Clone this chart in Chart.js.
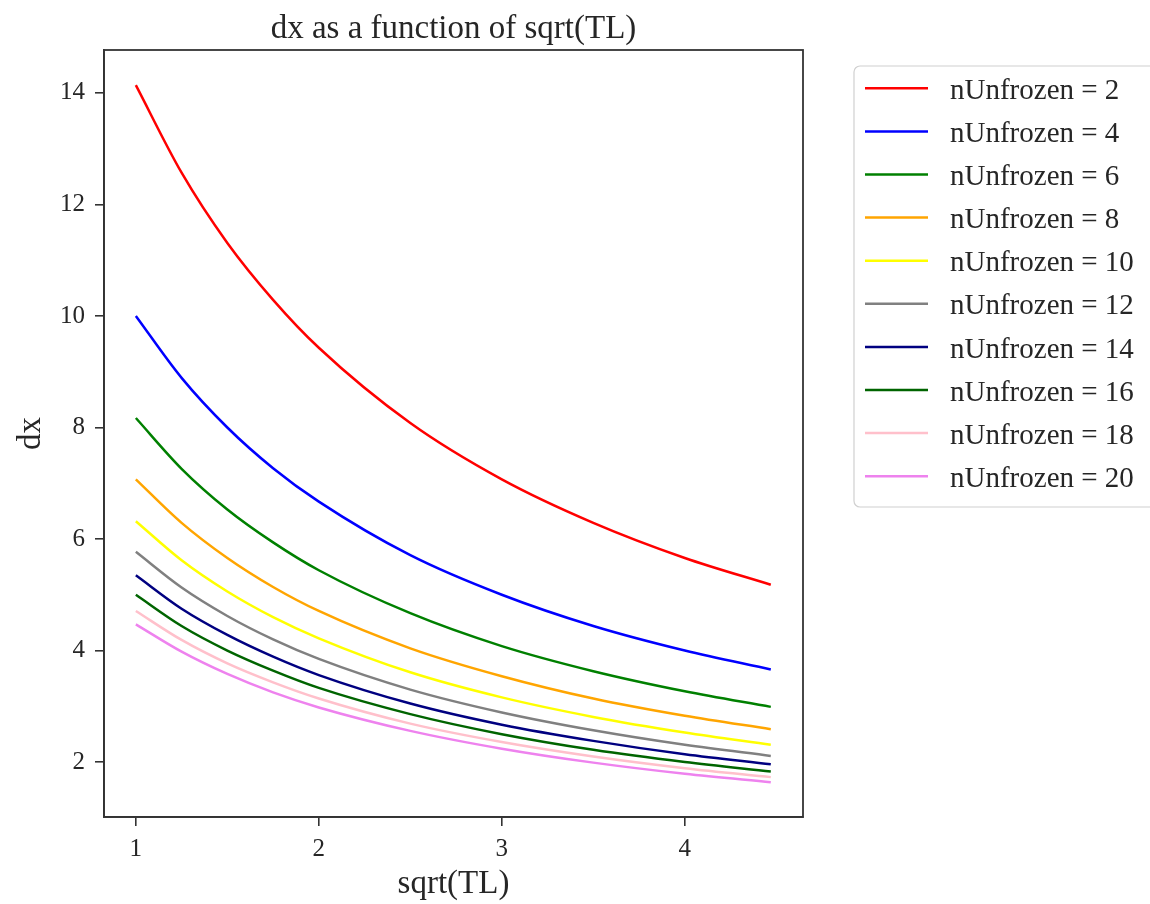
<!DOCTYPE html>
<html>
<head>
<meta charset="utf-8">
<script src="https://cdn.jsdelivr.net/npm/chart.js@4.4.1/dist/chart.umd.min.js"></script>
<style>
  html, body { margin: 0; padding: 0; background: #ffffff; }
  #wrap { width: 1150px; height: 904px; position: relative; }
</style>
</head>
<body>
<div id="wrap"><canvas id="c" width="1150" height="904"></canvas></div>
<script>
// ---- data ----
const sqrtTL = [1, 1.25, 1.5, 1.75, 2, 2.5, 3, 3.5, 4, 4.47];
const dx_n2  = [14.14, 12.57, 11.31, 10.29, 9.43, 8.08, 7.07, 6.29, 5.66, 5.18];
const dx_n4  = [10.00, 8.89, 8.00, 7.27, 6.67, 5.71, 5.00, 4.44, 4.00, 3.66];
const dx_n6  = [8.17, 7.26, 6.53, 5.94, 5.44, 4.67, 4.08, 3.63, 3.27, 2.99];
const dx_n8  = [7.07, 6.29, 5.66, 5.14, 4.71, 4.04, 3.54, 3.14, 2.83, 2.59];
const dx_n10 = [6.32, 5.62, 5.06, 4.60, 4.22, 3.61, 3.16, 2.81, 2.53, 2.31];
const dx_n12 = [5.77, 5.13, 4.62, 4.20, 3.85, 3.30, 2.89, 2.57, 2.31, 2.11];
const dx_n14 = [5.35, 4.75, 4.28, 3.89, 3.56, 3.05, 2.67, 2.38, 2.14, 1.96];
const dx_n16 = [5.00, 4.44, 4.00, 3.64, 3.33, 2.86, 2.50, 2.22, 2.00, 1.83];
const dx_n18 = [4.71, 4.19, 3.77, 3.43, 3.14, 2.69, 2.36, 2.10, 1.89, 1.73];
const dx_n20 = [4.47, 3.98, 3.58, 3.25, 2.98, 2.56, 2.24, 1.99, 1.79, 1.64];
const seriesLabels = ['nUnfrozen = 2','nUnfrozen = 4','nUnfrozen = 6','nUnfrozen = 8','nUnfrozen = 10',
                      'nUnfrozen = 12','nUnfrozen = 14','nUnfrozen = 16','nUnfrozen = 18','nUnfrozen = 20'];
const seriesValues = [dx_n2, dx_n4, dx_n6, dx_n8, dx_n10, dx_n12, dx_n14, dx_n16, dx_n18, dx_n20];
const seriesColors = ['#ff0000','#0000ff','#008000','#ffa500','#ffff00','#808080','#000080','#006400','#ffc0cb','#ee82ee'];
const xTicks = [1, 2, 3, 4];
const yTicks = [2, 4, 6, 8, 10, 12, 14];
const titleText = 'dx as a function of sqrt(TL)';
const xLabel = 'sqrt(TL)';
const yLabel = 'dx';

const SERIF = '"Liberation Serif", "DejaVu Serif", serif';
const TEXT = '#262626';
const AXIS = '#333333';

const datasets = seriesValues.map((vals, i) => ({
  label: seriesLabels[i],
  data: vals.map((v, j) => ({ x: sqrtTL[j], y: v })),
  borderColor: seriesColors[i],
  backgroundColor: seriesColors[i],
  borderWidth: 2.5,
  pointRadius: 0,
  fill: false,
  cubicInterpolationMode: 'monotone'
}));

const decor = {
  id: 'decor',
  afterDraw(chart) {
    const ctx = chart.ctx;
    const a = chart.chartArea;
    ctx.save();
    // frame
    ctx.strokeStyle = AXIS;
    ctx.lineWidth = 1.8;
    ctx.strokeRect(a.left, a.top, a.right - a.left, a.bottom - a.top);
    // title
    ctx.fillStyle = TEXT;
    ctx.font = '33px ' + SERIF;
    ctx.textAlign = 'center';
    ctx.textBaseline = 'alphabetic';
    ctx.fillText(titleText, (a.left + a.right) / 2, 38);
    // x label
    ctx.font = '33px ' + SERIF;
    ctx.fillText(xLabel, (a.left + a.right) / 2, 893);
    // y label
    ctx.save();
    ctx.translate(40, (a.top + a.bottom) / 2);
    ctx.rotate(-Math.PI / 2);
    ctx.fillText(yLabel, 0, 0);
    ctx.restore();
    // legend
    const lx = 854, ly = 66, lw = 320, lh = 441, r = 6;
    ctx.beginPath();
    ctx.moveTo(lx + r, ly);
    ctx.lineTo(lx + lw - r, ly);
    ctx.arcTo(lx + lw, ly, lx + lw, ly + r, r);
    ctx.lineTo(lx + lw, ly + lh - r);
    ctx.arcTo(lx + lw, ly + lh, lx + lw - r, ly + lh, r);
    ctx.lineTo(lx + r, ly + lh);
    ctx.arcTo(lx, ly + lh, lx, ly + lh - r, r);
    ctx.lineTo(lx, ly + r);
    ctx.arcTo(lx, ly, lx + r, ly, r);
    ctx.closePath();
    ctx.fillStyle = 'rgba(255,255,255,0.8)';
    ctx.fill();
    ctx.strokeStyle = '#d0d0d0';
    ctx.lineWidth = 1.2;
    ctx.stroke();
    ctx.font = '29px ' + SERIF;
    ctx.textAlign = 'left';
    ctx.textBaseline = 'middle';
    chart.data.datasets.forEach((ds, i) => {
      const y = 88.3 + i * 43.1;
      ctx.strokeStyle = ds.borderColor;
      ctx.lineWidth = 2.5;
      ctx.beginPath();
      ctx.moveTo(865, y);
      ctx.lineTo(928, y);
      ctx.stroke();
      ctx.fillStyle = TEXT;
      ctx.fillText(ds.label, 950, y + 3);
    });
    ctx.restore();
  }
};

new Chart(document.getElementById('c'), {
  type: 'line',
  data: { datasets },
  options: {
    responsive: false,
    animation: false,
    layout: { padding: { left: 0, top: 50, right: 347, bottom: 0 } },
    plugins: { legend: { display: false }, title: { display: false }, tooltip: { enabled: false } },
    scales: {
      x: {
        type: 'linear',
        min: 0.826, max: 4.646,
        afterBuildTicks: (s) => { s.ticks = xTicks.map(v => ({ value: v })); },
        afterFit: (s) => { s.height = 87; },
        grid: { drawOnChartArea: false, drawTicks: true, tickLength: 9, color: AXIS, lineWidth: 1.6 },
        border: { display: true, color: AXIS, width: 1.8 },
        ticks: { font: { family: SERIF, size: 25 }, color: TEXT, padding: 8, maxRotation: 0, callback: (v) => String(v) }
      },
      y: {
        type: 'linear',
        min: 1.015, max: 14.77,
        afterBuildTicks: (s) => { s.ticks = yTicks.map(v => ({ value: v })); },
        afterFit: (s) => { s.width = 104; },
        grid: { drawOnChartArea: false, drawTicks: true, tickLength: 9, color: AXIS, lineWidth: 1.6 },
        border: { display: true, color: AXIS, width: 1.8 },
        ticks: { font: { family: SERIF, size: 25 }, color: TEXT, padding: 10, callback: (v) => String(v) }
      }
    }
  },
  plugins: [decor]
});
</script>
</body>
</html>
